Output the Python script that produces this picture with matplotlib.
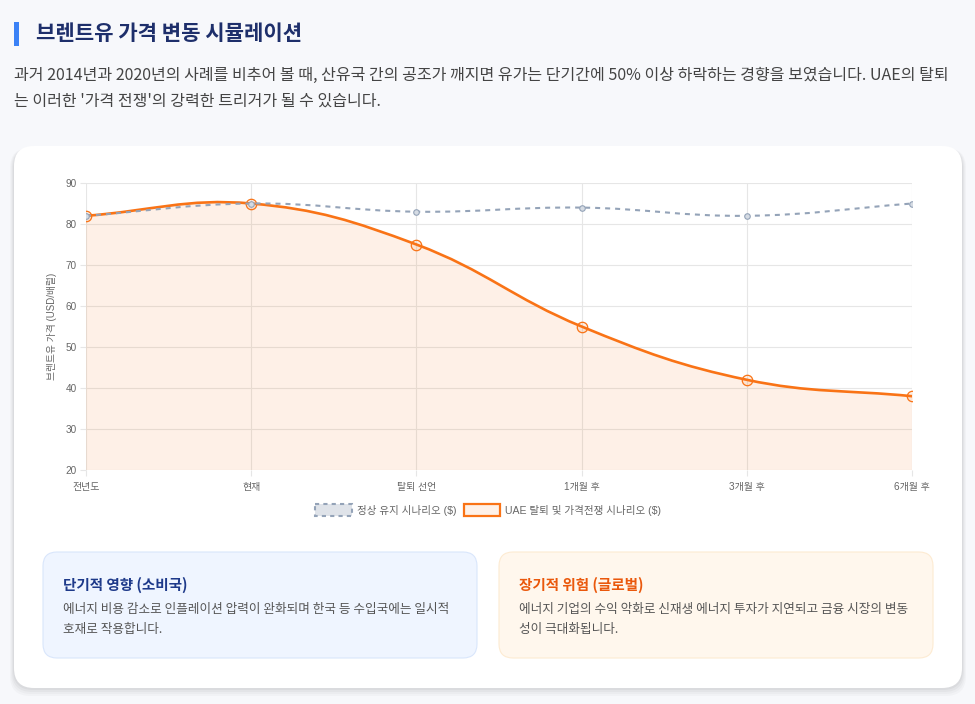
import numpy as np
import matplotlib
matplotlib.use("Agg")
import matplotlib.pyplot as plt
from matplotlib.patches import FancyBboxPatch, Rectangle, PathPatch
from matplotlib.path import Path

plt.rcParams["font.family"] = ["Noto Sans CJK KR", "DejaVu Sans"]
plt.rcParams["axes.unicode_minus"] = False
CHART_FONT = ["Liberation Sans", "Noto Sans CJK KR", "DejaVu Sans"]

# 데이터
labels = ["전년도", "현재", "탈퇴 선언", "1개월 후", "3개월 후", "6개월 후"]
normal_prices = [82, 85, 83, 84, 82, 85]
war_prices = [82, 85, 75, 55, 42, 38]
y_ticks = [20, 30, 40, 50, 60, 70, 80, 90]

W, H = 975, 704
ORANGE = "#f97316"
SLATE = "#94a3b8"
GRID = "#e6e6e6"
TICK = "#666666"

fig = plt.figure(figsize=(W / 100, H / 100), dpi=100)
fig.patch.set_facecolor("#f7f8fb")

# 픽셀 좌표용 배경 축
bg = fig.add_axes([0, 0, 1, 1])
bg.set_xlim(0, W)
bg.set_ylim(H, 0)
bg.axis("off")


def rbox(x0, y0, x1, y1, r, fc, ec="none", lw=0, alpha=1.0, z=1):
    p = FancyBboxPatch((x0, y0), x1 - x0, y1 - y0,
                       boxstyle=f"round,pad=0,rounding_size={r}",
                       fc=fc, ec=ec, lw=lw, alpha=alpha, zorder=z)
    bg.add_patch(p)
    return p


# 제목
bg.add_patch(Rectangle((14, 22), 4.5, 24, fc="#3b82f6", ec="none"))
bg.text(36, 33, "브렌트유 가격 변동 시뮬레이션", fontsize=15.2, fontweight="bold",
        color="#1e2f6b", va="center", ha="left")
bg.text(14, 75, "과거 2014년과 2020년의 사례를 비추어 볼 때, 산유국 간의 공조가 깨지면 유가는 "
        "단기간에 50% 이상 하락하는 경향을 보였습니다. UAE의 탈퇴",
        fontsize=11.55, color="#444444", va="center", ha="left")
bg.text(14, 101, "는 이러한 '가격 전쟁'의 강력한 트리거가 될 수 있습니다.",
        fontsize=11.55, color="#444444", va="center", ha="left")

# 카드 그림자 + 카드
for i, a in enumerate([0.025, 0.025, 0.03, 0.035]):
    d = 8 - i * 2
    rbox(14 - d / 2, 146 + 2, 962 + d / 2, 688 + d, 20, "#000000", alpha=a, z=1)
rbox(14, 146, 962, 688, 20, "white", z=2)

# 하단 정보 카드
rbox(43, 552, 477, 658, 14, "#eff5ff", "#d9e6fb", 0.8, z=3)
rbox(499, 552, 933, 658, 14, "#fff7ed", "#fdebd2", 0.8, z=3)
bg.text(63, 585, "단기적 영향 (소비국)", fontsize=10.5, fontweight="bold",
        color="#1e3a8a", va="center", zorder=4)
bg.text(63, 609, "에너지 비용 감소로 인플레이션 압력이 완화되며 한국 등 수입국에는 일시적",
        fontsize=9.1, color="#555555", va="center", zorder=4)
bg.text(63, 629, "호재로 작용합니다.", fontsize=9.1, color="#555555", va="center", zorder=4)
bg.text(519, 585, "장기적 위험 (글로벌)", fontsize=10.5, fontweight="bold",
        color="#ea580c", va="center", zorder=4)
bg.text(519, 609, "에너지 기업의 수익 악화로 신재생 에너지 투자가 지연되고 금융 시장의 변동",
        fontsize=9.1, color="#555555", va="center", zorder=4)
bg.text(519, 629, "성이 극대화됩니다.", fontsize=9.1, color="#555555", va="center", zorder=4)

# 범례
bg.add_patch(Rectangle((315, 504), 37, 12, fc="#dfe3e9", ec=SLATE, lw=1.5,
                       ls=(0, (2, 2)), zorder=4))
bg.text(357, 510, "정상 유지 시나리오 ($)", fontsize=7.6, color=TICK, va="center",
        family=CHART_FONT, zorder=4)
bg.add_patch(Rectangle((464, 504), 36, 12, fc="#fef1e8", ec=ORANGE, lw=1.6, zorder=4))
bg.text(505, 510, "UAE 탈퇴 및 가격전쟁 시나리오 ($)", fontsize=7.6, color=TICK,
        va="center", family=CHART_FONT, zorder=4)

# 차트 축
ax = fig.add_axes([86 / W, 1 - 470 / H, (912 - 86) / W, (470 - 183) / H])
ax.set_facecolor("none")
x = np.arange(len(labels))
ax.set_xlim(x[0], x[-1])
ax.set_ylim(20, 90)
ax.set_xticks(x)
ax.set_xticklabels(labels, family=CHART_FONT)
ax.set_yticks(y_ticks)
ax.set_yticklabels([str(v) for v in y_ticks], family=CHART_FONT)
ax.grid(True, color=GRID, lw=0.8)
ax.set_axisbelow(True)
for s in ax.spines.values():
    s.set_visible(False)
ax.tick_params(axis="both", colors=GRID, labelcolor=TICK, labelsize=7.2,
               length=4.5, width=0.8)
ax.tick_params(axis="x", pad=4)
ax.tick_params(axis="y", pad=2)
ax.set_ylabel("브렌트유 가격 (USD/배럴)", fontsize=7, color=TICK, labelpad=6,
              family=CHART_FONT)


def spline_path(xs, ys, t=0.4, close_to=None):
    # Chart.js 방식의 베지어 제어점 (픽셀 공간에서 계산)
    pts = ax.transData.transform(np.column_stack([xs, ys]))
    n = len(pts)
    cp, cn = [], []
    for i in range(n):
        p0, p1, p2 = pts[max(i - 1, 0)], pts[i], pts[min(i + 1, n - 1)]
        d01 = np.hypot(*(p1 - p0))
        d12 = np.hypot(*(p2 - p1))
        tot = d01 + d12
        s01 = d01 / tot if tot else 0
        s12 = d12 / tot if tot else 0
        cp.append(p1 - t * s01 * (p2 - p0))
        cn.append(p1 + t * s12 * (p2 - p0))
    verts = [pts[0]]
    codes = [Path.MOVETO]
    for i in range(n - 1):
        verts += [cn[i], cp[i + 1], pts[i + 1]]
        codes += [Path.CURVE4] * 3
    verts = list(ax.transData.inverted().transform(np.array(verts)))
    if close_to is not None:
        verts += [(xs[-1], close_to), (xs[0], close_to), (xs[0], close_to)]
        codes += [Path.LINETO, Path.LINETO, Path.CLOSEPOLY]
    return Path(verts, codes)


# 가격전쟁 시나리오 (채움 + 곡선)
ax.add_patch(PathPatch(spline_path(x, war_prices, close_to=20),
                       fc=ORANGE, alpha=0.1, ec="none", zorder=2))
ax.add_patch(PathPatch(spline_path(x, war_prices), fc="none", ec=ORANGE,
                       lw=1.9, zorder=3, capstyle="round"))
ax.plot(x, war_prices, ls="none", marker="o", ms=7.5, mfc=(0.976, 0.451, 0.086, 0.1),
        mec=ORANGE, mew=0.9, zorder=4)

# 정상 유지 시나리오
ax.add_patch(PathPatch(spline_path(x, normal_prices), fc="none", ec=SLATE,
                       lw=1.5, ls=(0, (2.4, 2.4)), zorder=5))
ax.plot(x, normal_prices, ls="none", marker="o", ms=4, mfc="#d5dbe3",
        mec=SLATE, mew=0.8, zorder=6)

fig.savefig("out.png", dpi=100, facecolor=fig.get_facecolor())
